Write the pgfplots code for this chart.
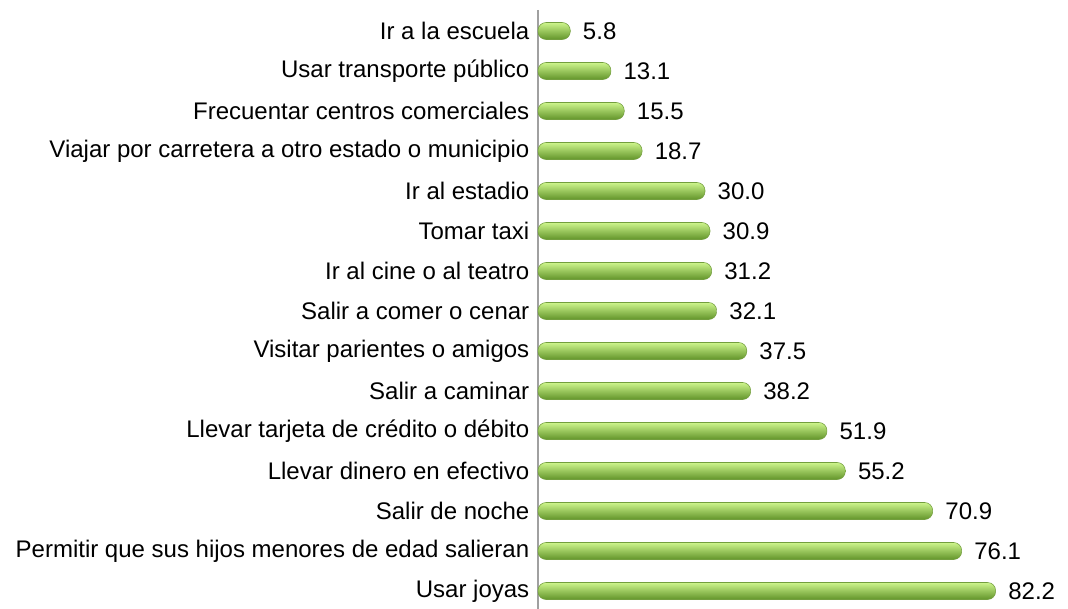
\documentclass[border=0pt]{standalone}
\usepackage{pgfplots}
\pgfplotsset{compat=1.18}
\usepackage{fontspec}
\setmainfont{Liberation Sans}
\definecolor{gtop}{RGB}{205,245,140}
\definecolor{gmid}{RGB}{155,220,85}
\definecolor{gbot}{RGB}{98,148,42}
\definecolor{gline}{RGB}{115,158,62}
\definecolor{axgray}{RGB}{160,160,160}
\begin{document}
\begin{tikzpicture}
\useasboundingbox (-403.5pt,0pt) rectangle (397.5pt,456.75pt);
\begin{axis}[
  scale only axis,
  width=397.5pt, height=449.25pt,
  xmin=0, xmax=95.2,
  ymin=-0.525, ymax=14.45,
  y dir=reverse,
  xbar, bar width=12.75pt, bar shift=0pt,
  axis x line=none,
  axis y line*=left,
  y axis line style={draw=axgray, line width=1.2pt},
  ytick={0,...,14},
  yticklabels={Ir a la escuela, Usar transporte público, Frecuentar centros comerciales, Viajar por carretera a otro estado o municipio, Ir al estadio, Tomar taxi, Ir al cine o al teatro, Salir a comer o cenar, Visitar parientes o amigos, Salir a caminar, Llevar tarjeta de crédito o débito, Llevar dinero en efectivo, Salir de noche, Permitir que sus hijos menores de edad salieran, Usar joyas},
  major tick length=0pt,
  yticklabel style={font=\fontsize{18pt}{20pt}\selectfont, anchor=east, xshift=-3pt},
  nodes near coords,
  nodes near coords style={font=\fontsize{18pt}{20pt}\selectfont, anchor=west, xshift=6pt, text=black,
    /pgf/number format/.cd, fixed, fixed zerofill, precision=1, assume math mode=true},
  point meta=x,
  gbar/.style={draw=gline, line width=0.4pt, rounded corners=6pt, shading=axis, top color=gtop, middle color=gmid, bottom color=gbot},
]
\addplot[gbar] coordinates {(5.8,0)};
\addplot[gbar] coordinates {(13.1,1)};
\addplot[gbar] coordinates {(15.5,2)};
\addplot[gbar] coordinates {(18.7,3)};
\addplot[gbar] coordinates {(30.0,4)};
\addplot[gbar] coordinates {(30.9,5)};
\addplot[gbar] coordinates {(31.2,6)};
\addplot[gbar] coordinates {(32.1,7)};
\addplot[gbar] coordinates {(37.5,8)};
\addplot[gbar] coordinates {(38.2,9)};
\addplot[gbar] coordinates {(51.9,10)};
\addplot[gbar] coordinates {(55.2,11)};
\addplot[gbar] coordinates {(70.9,12)};
\addplot[gbar] coordinates {(76.1,13)};
\addplot[gbar] coordinates {(82.2,14)};
\end{axis}
\end{tikzpicture}
\end{document}
